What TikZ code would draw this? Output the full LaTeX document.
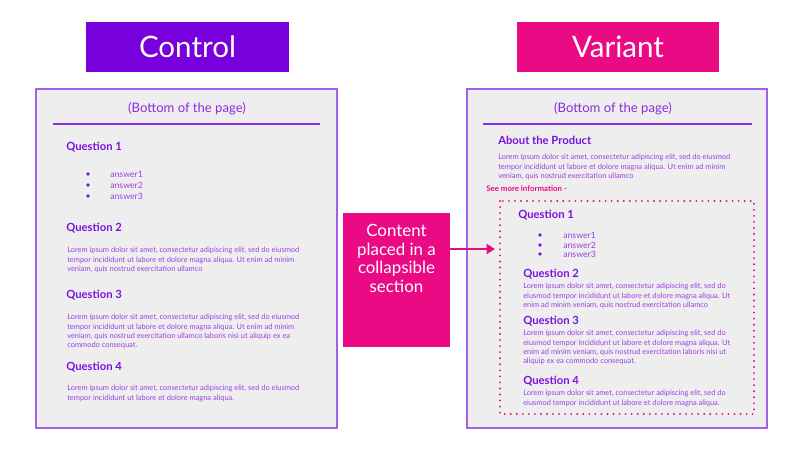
\documentclass[tikz,border=0pt]{standalone}
\usepackage{fontspec}
\setmainfont{Lato}
\usetikzlibrary{arrows.meta}
\definecolor{ctrlpurple}{HTML}{7700DD}
\definecolor{varpink}{HTML}{EA0A84}
\definecolor{headpurple}{HTML}{7A12DE}
\definecolor{txtpurple}{HTML}{8A2BE2}
\definecolor{bodypurple}{HTML}{9A3FE3}
\definecolor{pagegray}{HTML}{EFEEEF}
\definecolor{pageline}{HTML}{A261E6}
\tikzset{
  header/.style={fill=#1, text=white, minimum width=5.05cm, minimum height=1.25cm,
    inner sep=0pt, font=\fontsize{21}{25}\selectfont},
  page/.style={draw=pageline, line width=1pt, fill=pagegray},
  pagetitle/.style={text=txtpurple, inner sep=0pt, font=\fontsize{9.3}{11}\selectfont},
  question/.style={anchor=west, inner sep=0pt, text=headpurple, font=\bfseries\fontsize{8}{10}\selectfont},
  lorem/.style={anchor=north west, inner sep=0pt, align=left, text=bodypurple,
    font=\fontsize{5.3}{6.65}\selectfont},
  answer/.style={anchor=west, inner sep=0pt, text=bodypurple, font=\fontsize{6.2}{7}\selectfont},
  bulletdot/.style={circle, fill=headpurple, inner sep=0pt, minimum size=2.6pt},
  dotline/.style={draw=varpink, line width=1.5pt, dash pattern=on 0pt off 4.3pt, line cap=round}
}
\newcommand{\loremA}{Lorem ipsum dolor sit amet, consectetur adipiscing elit, sed do eiusmod}
\newcommand{\loremB}{Lorem ipsum dolor sit amet, consectetur adipiscing elit, sed do}
\begin{document}
\begin{tikzpicture}[x=0.025cm, y=-0.025cm]
        \useasboundingbox (0,0) rectangle (800,450);                        %
        % headers
        \node[header=ctrlpurple] (control) at (187.5,47) {Control};        %
        \node[header=varpink]    (variant) at (618,47)   {Variant};        %
        % control page
        \draw [page] (36,89) rectangle (337,428);                           %
        \node[pagetitle] (ctitle) at (187,109) {(Bottom of the page)};      %
        \draw [txtpurple, line width=0.8pt] (53,124) -- (320,124);          %
        \node[question] (cq1) at (66,147) {Question 1};                     %
        \foreach \y/\a in {174/answer1, 185/answer2, 196/answer3} {
          \node[bulletdot] at (88,\y) {};
          \node[answer] at (110,\y) {\a};
        }
        \node[question] (cq2) at (66,228) {Question 2};                     %
        \node[lorem] (cl2) at (67,247) {\loremA\\tempor incididunt ut labore et dolore magna aliqua. Ut enim ad minim\\veniam, quis nostrud exercitation ullamco};
        \node[question] (cq3) at (66,295) {Question 3};                     %
        \node[lorem] (cl3) at (67,314) {\loremA\\tempor incididunt ut labore et dolore magna aliqua. Ut enim ad minim\\veniam, quis nostrud exercitation ullamco laboris nisi ut aliquip ex ea\\commodo consequat.};
        \node[question] (cq4) at (66,367) {Question 4};                     %
        \node[lorem] (cl4) at (67,385) {\loremA\\tempor incididunt ut labore et dolore magna aliqua.};
        % middle box
        \fill [varpink] (343,213) rectangle (450,347);                      %
        \coordinate (content) at (450,249);                                 %
        \node[anchor=north, align=center, text=white, inner sep=0pt,
              font=\fontsize{12}{13.2}\selectfont] (contenttext) at (396.5,224)
              {Content\\placed in a\\collapsible\\section};                 %
        % variant page
        \draw [page] (467,89) rectangle (767,428);                          %
        \node[pagetitle] (vtitle) at (613,109) {(Bottom of the page)};      %
        \draw [txtpurple, line width=0.8pt] (483,124) -- (752,124);         %
        \node[question] (about) at (498,140) {About the Product};           %
        \node[lorem] (aboutlorem) at (498,154) {\loremA\\tempor incididunt ut labore et dolore magna aliqua. Ut enim ad minim\\veniam, quis nostrud exercitation ullamco};
        \node[anchor=west, inner sep=0pt, text=varpink, font=\bfseries\fontsize{5.6}{7}\selectfont]
              (seemore) at (486,189) {See more information -};              %
        \draw [dotline] (500,201) rectangle (754,414);                      %collapsible
        \coordinate (collapse) at (495,249);                                %
        \node[question] (vq1) at (518,215) {Question 1};                    %
        \foreach \y/\a in {235/answer1, 245/answer2, 254/answer3} {
          \node[bulletdot] at (540,\y) {};
          \node[answer] at (563,\y) {\a};
        }
        \node[question] (vq2) at (523,274) {Question 2};                    %
        \node[lorem] (vl2) at (523,283) {\loremB\\eiusmod tempor incididunt ut labore et dolore magna aliqua. Ut\\enim ad minim veniam, quis nostrud exercitation ullamco};
        \node[question] (vq3) at (523,321) {Question 3};                    %
        \node[lorem] (vl3) at (523,330) {\loremB\\eiusmod tempor incididunt ut labore et dolore magna aliqua. Ut\\enim ad minim veniam, quis nostrud exercitation laboris nisi ut\\aliquip ex ea commodo consequat.};
        \node[question] (vq4) at (523,381) {Question 4};                    %
        \node[lorem] (vl4) at (523,390) {\loremB\\eiusmod tempor incididunt ut labore et dolore magna aliqua.};
        % arrow
        \draw [varpink, line width=1.5pt, -{Triangle[length=6pt, width=7pt]}] (content) -- (collapse);
\end{tikzpicture}
\end{document}
